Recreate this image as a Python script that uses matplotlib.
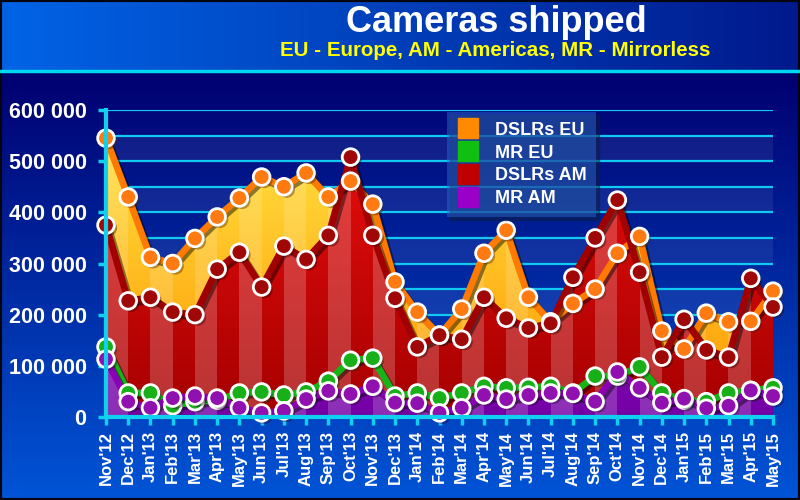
import numpy as np
import matplotlib
matplotlib.use('Agg')
import matplotlib.pyplot as plt
from matplotlib.lines import Line2D
import matplotlib.patheffects as pe

plt.rcParams['font.family'] = ['Liberation Sans', 'DejaVu Sans']
plt.rcParams['font.weight'] = 'bold'

# data (thousands of units)
months = ["Nov'12", "Dec'12", "Jan'13", "Feb'13", "Mar'13", "Apr'13", "May'13",
          "Jun'13", "Jul'13", "Aug'13", "Sep'13", "Oct'13", "Nov'13", "Dec'13",
          "Jan'14", "Feb'14", "Mar'14", "Apr'14", "May'14", "Jun'14", "Jul'14",
          "Aug'14", "Sep'14", "Oct'14", "Nov'14", "Dec'14", "Jan'15", "Feb'15",
          "Mar'15", "Apr'15", "May'15"]
dslr_eu = [545, 430, 312, 300, 349, 391, 428, 469, 450, 477, 430, 461, 416, 264, 205,
           160, 211, 320, 365, 234, 186, 222, 250, 320, 353, 168, 133, 203, 186, 187, 246]
dslr_am = [375, 227, 234, 205, 200, 289, 322, 254, 334, 308, 355, 508, 355, 232, 137,
           160, 152, 234, 193, 174, 183, 273, 350, 424, 283, 117, 191, 131, 117, 271, 215]
mr_eu = [137, 47, 47, 22, 30, 33, 47, 49, 43, 49, 70, 111, 115, 41, 47,
         37, 47, 60, 57, 58, 60, 47, 80, 80, 98, 47, 33, 30, 47, 52, 57]
mr_am = [113, 30, 18, 37, 41, 37, 18, 8, 12, 35, 51, 45, 60, 28, 27,
         8, 18, 43, 35, 43, 47, 46, 30, 88, 57, 28, 36, 17, 22, 52, 41]
yticks = [0, 100000, 200000, 300000, 400000, 500000, 600000]
ytick_labels = ['0', '100 000', '200 000', '300 000', '400 000', '500 000', '600 000']
series_names = ['DSLRs EU', 'MR EU', 'DSLRs AM', 'MR AM']

fig = plt.figure(figsize=(8, 5), dpi=100)

# background gradient
H, W = 500, 800
rows = np.arange(H)[:, None, None]
cols = np.arange(W)[None, :, None]
t = np.clip((rows - 72) / (H - 72), 0, 1)
low = np.array([0, 0, 112]) / 255 * (1 - t) + np.array([0, 85, 215]) / 255 * t
s = cols / W
top = np.array([0, 100, 230]) / 255 * (1 - s) + np.array([0, 25, 140]) / 255 * s
img = np.broadcast_to(low, (H, W, 3)).copy()
img[:71] = np.broadcast_to(top, (71, W, 3))
bg = fig.add_axes([0, 0, 1, 1])
bg.imshow(img, aspect='auto', extent=[0, 1, 0, 1])
bg.axhline(1 - 71 / 500, color='#00d8f0', lw=2.5)
bg.set_xlim(0, 1); bg.set_ylim(0, 1)
bg.axis('off')
bg.add_patch(plt.Rectangle((0, 0), 1, 1, transform=bg.transAxes, fill=False,
                           ec='#050510', lw=3))

fig.text(0.621, 0.955, 'Cameras shipped', color='white', fontsize=26,
         ha='center', va='center', weight='bold')
fig.text(0.619, 0.9, 'EU - Europe, AM - Americas, MR - Mirrorless', color='#ffff00',
         fontsize=14.8, ha='center', va='center', weight='bold')

ax = fig.add_axes([0.1325, 0.166, 0.83375, 0.614])
ax.patch.set_alpha(0)
x = np.arange(len(months))
xmax = len(months) - 1

# horizontal bands and grid
for lo in range(0, 600000, 100000):
    ax.axhspan(lo, lo + 50000, color='white', alpha=0.07, lw=0, zorder=0)
for g in range(50000, 600001, 50000):
    ax.axhline(g, color='#10c8f0', lw=1.6, zorder=1)


def striped_fill(vals, bottom, topc, light, z):
    y = np.array(vals) * 1000
    poly = ax.fill_between(x, y, 0, facecolor='none', lw=0)
    n = 150
    tt = np.linspace(0, 1, n)[:, None, None]
    base = np.array(bottom) / 255 * (1 - tt) + np.array(topc) / 255 * tt
    im_arr = np.repeat(base, xmax, axis=1)
    im_arr[:, ::2] = im_arr[:, ::2] * (1 - light) + light
    im = ax.imshow(im_arr, extent=[0, xmax, 0, 600000], origin='lower',
                   aspect='auto', interpolation='nearest', zorder=z)
    im.set_clip_path(poly.get_paths()[0], transform=ax.transData)


striped_fill(dslr_eu, (255, 150, 0), (255, 232, 70), 0.15, 2)
striped_fill(dslr_am, (165, 0, 0), (240, 15, 15), 0.2, 3)
striped_fill(mr_am, (115, 0, 165), (185, 40, 225), 0.18, 4)

shadow = [pe.SimpleLineShadow(offset=(2, -2), shadow_color='black', alpha=0.45), pe.Normal()]
line_colors = ['#ff7a00', '#16b416', '#a00000', '#8a00b4']
face_colors = ['#ff7a10', '#18b018', '#a00808', '#9010b0']
data = [dslr_eu, mr_eu, dslr_am, mr_am]

line_order = [0, 2, 1, 3]
for k, i in enumerate(line_order):
    ax.plot(x, np.array(data[i]) * 1000, color=line_colors[i], lw=4.8,
            solid_joinstyle='round', zorder=6 + k, path_effects=shadow, clip_on=False)
for k, i in enumerate(line_order):
    ax.plot(x, np.array(data[i]) * 1000, ls='none', marker='o', ms=12,
            mfc=face_colors[i], mec='white', mew=2, zorder=11 + k, clip_on=False,
            path_effects=[pe.SimplePatchShadow(offset=(2, -2), alpha=0.4), pe.Normal()])

ax.set_xlim(0, xmax)
ax.set_ylim(0, 600000)
ax.set_xticks(x)
ax.set_xticklabels(months, rotation=90, fontsize=12, color='white', weight='bold')
ax.set_yticks(yticks)
ax.set_yticklabels(ytick_labels, fontsize=15.5, color='white', weight='bold')
ax.tick_params(axis='both', direction='out', color='#10d0f0', width=2.5, length=6)
ax.tick_params(axis='y', pad=8)
ax.tick_params(axis='x', pad=4)
for side in ['top', 'right']:
    ax.spines[side].set_visible(False)
for side in ['left', 'bottom']:
    ax.spines[side].set_color('#10d0f0')
    ax.spines[side].set_linewidth(3)
    ax.spines[side].set_zorder(20)

handles = [Line2D([], [], ls='none', marker='s', ms=15, mfc=c, mec=c, mew=1)
           for c in ['#ff8a00', '#10c010', '#c00000', '#9a00c8']]
leg = ax.legend(handles, series_names, loc='upper left', bbox_to_anchor=(0.511, 0.994),
                borderaxespad=0, frameon=True, fancybox=False, shadow=True,
                facecolor='#2a64d0', framealpha=0.5, edgecolor='none',
                prop=dict(size=13, weight='bold'), labelcolor='white',
                handletextpad=0.9, labelspacing=0.32, borderpad=0.55, handlelength=1.2)
leg.set_zorder(30)

fig.savefig('out.png', dpi=100)
